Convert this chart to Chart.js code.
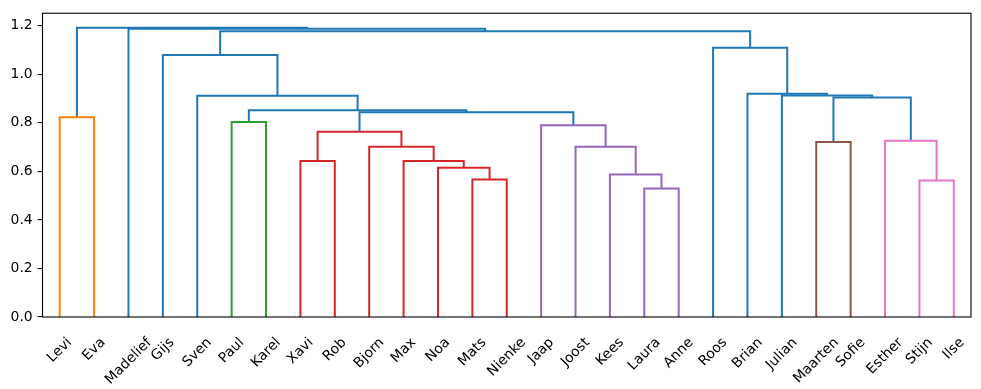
<!DOCTYPE html>
<html><head><meta charset="utf-8">
<script src="https://cdn.jsdelivr.net/npm/chart.js@4.4.0/dist/chart.umd.min.js"></script>
<style>html,body{margin:0;padding:0;background:#fff}canvas{display:block}</style>
</head><body>
<canvas id="c" width="981" height="389"></canvas>
<script>
// Leaf labels in dendrogram order
const leaves = ['Levi','Eva','Madelief','Gijs','Sven','Paul','Karel','Xavi','Rob','Bjorn','Max','Noa','Mats','Nienke','Jaap','Joost','Kees','Laura','Anne','Roos','Brian','Julian','Maarten','Sofie','Esther','Stijn','Ilse'];
// Linkage: ids < 27 are leaves, id 27+k is merge k
const mergeLeft   = [17,25,12,16,11, 7,10, 9,15,22,24,32,14, 5, 0,38,40,36, 4,21,20, 3,19,48, 2,41];
const mergeRight  = [18,26,13,27,29, 8,31,33,30,23,28,34,35, 6, 1,39,42,37,43,44,46,45,47,49,50,51];
const mergeHeight = [0.529,0.562,0.566,0.5875,0.615,0.643,0.643,0.7015,0.7015,0.7207,0.726,0.763,0.790,0.803,0.8225,0.844,0.852,0.904,0.911,0.912,0.920,1.079,1.109,1.177,1.188,1.1918];
const yTicks = [0,0.2,0.4,0.6,0.8,1.0,1.2];

const palette = ['#ff7f0e','#2ca02c','#d62728','#9467bd','#8c564b','#e377c2','#7f7f7f','#bcbd22','#17becf'];
const aboveColor = '#1f77b4';

const N = leaves.length;
const nodeX = leaves.map((_, i) => 5 + 10 * i);
const nodeH = leaves.map(() => 0);
mergeHeight.forEach((h, k) => {
  nodeX[N + k] = (nodeX[mergeLeft[k]] + nodeX[mergeRight[k]]) / 2;
  nodeH[N + k] = h;
});
const maxH = Math.max(...mergeHeight);
const thr = 0.7 * maxH;
const linkColor = [];
let ci = 0;
function walk(id, col) {
  if (id < N) return;
  const k = id - N;
  let c = col;
  if (!c && mergeHeight[k] < thr) c = palette[ci++ % palette.length];
  linkColor[k] = c || aboveColor;
  walk(mergeLeft[k], c);
  walk(mergeRight[k], c);
}
walk(N + mergeHeight.length - 1, null);

const datasets = mergeHeight.map((h, k) => {
  const a = mergeLeft[k], b = mergeRight[k];
  return {
    data: [{x: nodeX[a], y: nodeH[a]}, {x: nodeX[a], y: h}, {x: nodeX[b], y: h}, {x: nodeX[b], y: nodeH[b]}],
    showLine: true, borderColor: linkColor[k], borderWidth: 2, pointRadius: 0, pointHoverRadius: 0,
    fill: false, tension: 0, borderCapStyle: 'butt', borderJoinStyle: 'miter'
  };
});

const labelShift = {
  id: 'labelShift',
  beforeDraw(chart) {
    const s = chart.scales.x;
    const items = s.getLabelItems();
    const ctx = chart.ctx;
    ctx.save();
    items.forEach(it => {
      if (it._mpl) return;
      ctx.font = it.font.string;
      const w = ctx.measureText(String(it.label)).width;
      it.options.translation[0] += w * Math.SQRT1_2 / 2;
      it._mpl = true;
    });
    ctx.restore();
  }
};
const frame = {
  id: 'frame',
  afterDatasetsDraw(chart) {
    const a = chart.chartArea, ctx = chart.ctx;
    ctx.save();
    ctx.strokeStyle = '#000';
    ctx.lineWidth = 1.1;
    ctx.strokeRect(a.left, a.top, a.right - a.left, a.bottom - a.top);
    ctx.restore();
  }
};

Chart.defaults.font.family = 'DejaVu Sans';
Chart.defaults.font.size = 13.9;
Chart.defaults.color = '#000';

new Chart(document.getElementById('c'), {
  type: 'scatter',
  data: { datasets },
  options: {
    responsive: false, animation: false, devicePixelRatio: 1,
    layout: { padding: { top: 10, right: 10, left: 0, bottom: 0 } },
    plugins: { legend: { display: false }, tooltip: { enabled: false } },
    scales: {
      x: {
        type: 'linear', min: 0, max: 10 * N,
        afterBuildTicks: s => { s.ticks = leaves.map((_, i) => ({ value: 5 + 10 * i })); },
        afterFit: s => { s.height = 72; },
        grid: { display: false },
        border: { display: false },
        ticks: { autoSkip: false, minRotation: 45, maxRotation: 45, padding: 9.5,
                 callback: (v, i) => leaves[i] }
      },
      y: {
        type: 'linear', min: 0, max: 1.05 * maxH,
        afterBuildTicks: s => { s.ticks = yTicks.map(v => ({ value: v })); },
        afterFit: s => { s.width = 42.5; },
        grid: { drawOnChartArea: false, drawTicks: true, tickLength: 4.9, color: '#000', lineWidth: 1.1 },
        border: { display: false },
        ticks: { padding: 4.9, callback: v => v.toFixed(1) }
      }
    }
  },
  plugins: [labelShift, frame]
});
</script>
</body></html>
